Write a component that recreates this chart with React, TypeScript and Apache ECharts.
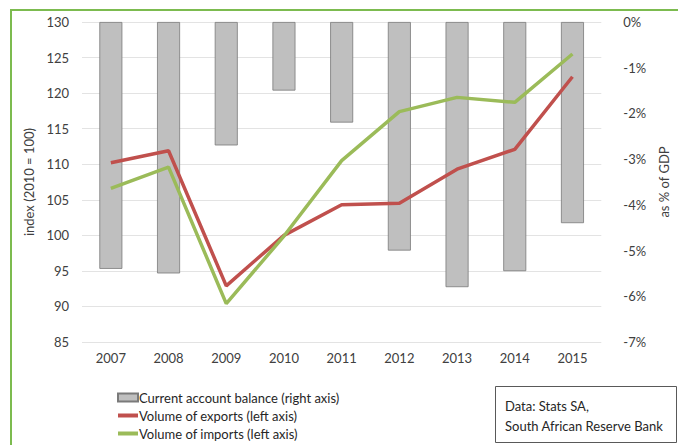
import React, { useEffect, useRef } from "react";
import * as echarts from "echarts";

const years = ["2007", "2008", "2009", "2010", "2011", "2012", "2013", "2014", "2015"];
const currentAccount = [-5.4, -5.5, -2.7, -1.5, -2.2, -5.0, -5.8, -5.45, -4.4];
const exportsVol = [110.2, 111.9, 92.9, 100.0, 104.3, 104.5, 109.3, 112.1, 122.3];
const importsVol = [106.6, 109.6, 90.4, 99.9, 110.5, 117.4, 119.4, 118.7, 125.5];

const FONT = "Lato";
const TXT = "#404040";
const LINE_ICON = "path://M0,0h20v4h-20z";

export default function App() {
  const ref = useRef<HTMLDivElement>(null);
  useEffect(() => {
    if (!ref.current) return;
    const chart = echarts.init(ref.current, null, { renderer: "svg" });
    chart.setOption({
      animation: false,
      backgroundColor: "#ffffff",
      textStyle: { fontFamily: FONT, color: TXT },
      grid: { left: 82, right: 72, top: 22, bottom: 103, containLabel: false },
      xAxis: {
        type: "category",
        data: years,
        axisLine: { show: false },
        axisTick: { show: false },
        axisLabel: { color: TXT, fontSize: 13, fontFamily: FONT, margin: 9 },
      },
      yAxis: [
        {
          type: "value",
          min: 85,
          max: 130,
          interval: 5,
          position: "left",
          name: "index (2010 = 100)",
          nameLocation: "middle",
          nameGap: 41,
          nameRotate: 90,
          nameTextStyle: { color: TXT, fontSize: 13, fontFamily: FONT },
          axisLabel: { color: TXT, fontSize: 13, fontFamily: FONT, margin: 13 },
          axisLine: { show: false },
          axisTick: { show: false },
          splitLine: { lineStyle: { color: "#e3e3e3", width: 1 } },
        },
        {
          type: "value",
          min: -7,
          max: 0,
          interval: 1,
          position: "right",
          name: "as % of GDP",
          nameLocation: "middle",
          nameGap: 48,
          nameRotate: 90,
          nameTextStyle: { color: TXT, fontSize: 13, fontFamily: FONT },
          axisLabel: {
            color: TXT,
            fontSize: 13,
            fontFamily: FONT,
            margin: 22,
            formatter: (v: number) => `${v}%`,
          },
          axisLine: { show: false },
          axisTick: { show: false },
          splitLine: { show: false },
        },
      ],
      legend: {
        orient: "vertical",
        left: 112,
        top: 386,
        itemGap: 5,
        itemWidth: 20,
        itemHeight: 8,
        textStyle: { color: "#262626", fontSize: 13, fontFamily: FONT, padding: [0, 0, 0, -4] },
        data: [
          { name: "Current account balance (right axis)", icon: "rect" },
          { name: "Volume of exports (left axis)", icon: LINE_ICON },
          { name: "Volume of imports (left axis)", icon: LINE_ICON },
        ],
      },
      series: [
        {
          name: "Current account balance (right axis)",
          type: "bar",
          yAxisIndex: 1,
          data: currentAccount,
          barWidth: 23,
          itemStyle: { color: "#bfbfbf", borderColor: "#7a7a7a", borderWidth: 0.8 },
        },
        {
          name: "Volume of exports (left axis)",
          type: "line",
          yAxisIndex: 0,
          data: exportsVol,
          symbol: "none",
          lineStyle: { color: "#c0504d", width: 3.5 },
          itemStyle: { color: "#c0504d" },
          z: 3,
        },
        {
          name: "Volume of imports (left axis)",
          type: "line",
          yAxisIndex: 0,
          data: importsVol,
          symbol: "none",
          lineStyle: { color: "#9bbb59", width: 3.5 },
          itemStyle: { color: "#9bbb59" },
          z: 4,
        },
      ],
      graphic: [
        {
          type: "rect",
          shape: { x: 11, y: 10, width: 700, height: 460 },
          style: { fill: "none", stroke: "#7cbb4f", lineWidth: 2 },
          silent: true,
        },
        {
          type: "rect",
          shape: { x: 495.5, y: 386.5, width: 181, height: 56 },
          style: { fill: "#ffffff", stroke: "#595959", lineWidth: 1 },
        },
        {
          type: "text",
          left: 505,
          top: 396,
          style: {
            text: "Data: Stats SA,\nSouth African Reserve Bank",
            fill: "#262626",
            font: `13px ${FONT}`,
            lineHeight: 20,
          },
        },
      ],
    });
    return () => chart.dispose();
  }, []);
  return (
    <div
      ref={ref}
      style={{ position: "fixed", left: 0, top: 0, width: 678, height: 445 }}
    />
  );
}
